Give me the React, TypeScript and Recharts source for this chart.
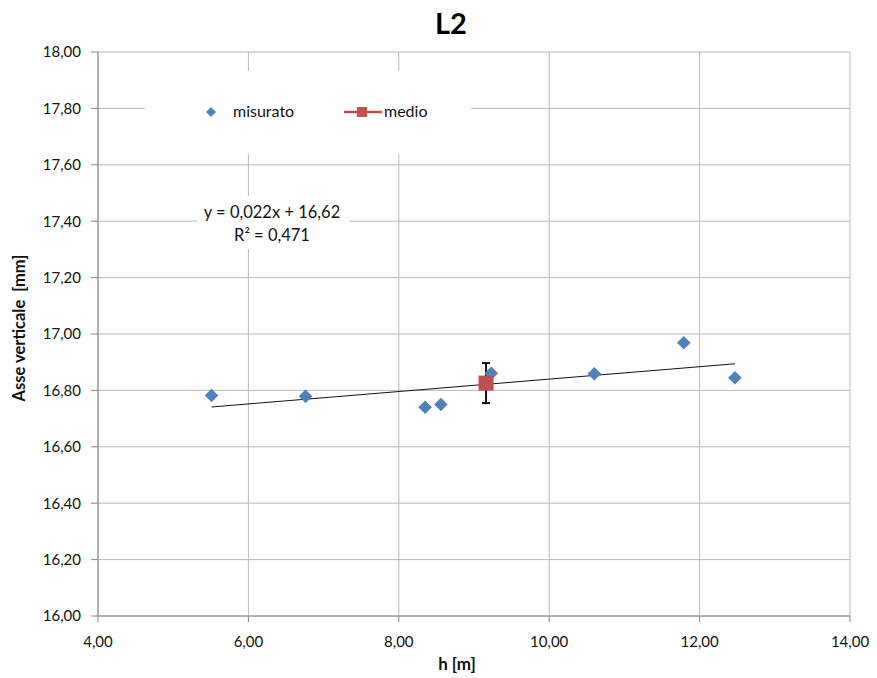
import {
  ScatterChart,
  Scatter,
  XAxis,
  YAxis,
  CartesianGrid,
  ErrorBar,
  ReferenceLine,
} from "recharts";

const xTicks = [4, 6, 8, 10, 12, 14];
const yTicks = [16, 16.2, 16.4, 16.6, 16.8, 17, 17.2, 17.4, 17.6, 17.8, 18];

// misurato
const hValues = [5.51, 6.76, 8.35, 8.56, 9.23, 10.6, 11.79, 12.47];
const measured = [16.782, 16.779, 16.74, 16.75, 16.861, 16.859, 16.969, 16.845];

// medio
const meanH = [9.16];
const meanValues = [16.826];
const meanErr = [0.071];

// trendline as printed on the chart
const trendSlope = 0.022;
const trendIntercept = 16.62;

const FONT = "Lato, 'Liberation Sans', sans-serif";
const BLUE = "#4F81BD";
const RED = "#C0504D";

const measuredData = hValues.map((h, i) => ({ h, v: measured[i] }));
const meanData = meanH.map((h, i) => ({ h, v: meanValues[i], err: meanErr[i] }));
const xMin = Math.min(...hValues);
const xMax = Math.max(...hValues);
const trendSegment = [
  { x: xMin, y: trendSlope * xMin + trendIntercept },
  { x: xMax, y: trendSlope * xMax + trendIntercept },
];

const fmt = (v: number) => v.toFixed(2).replace(".", ",");

const Diamond = (props: any) => {
  const { cx, cy } = props;
  const r = 6.8;
  return (
    <polygon
      points={`${cx},${cy - r} ${cx + r},${cy} ${cx},${cy + r} ${cx - r},${cy}`}
      fill={BLUE}
    />
  );
};

const Square = (props: any) => {
  const { cx, cy } = props;
  const s = 15;
  return <rect x={cx - s / 2} y={cy - s / 2} width={s} height={s} fill={RED} />;
};

export default function App() {
  return (
    <div
      style={{
        position: "absolute",
        left: 0,
        top: 0,
        width: 877,
        height: 678,
        background: "#fff",
        fontFamily: FONT,
      }}
    >
      <ScatterChart
        width={877}
        height={678}
        margin={{ top: 52, right: 27, left: 38, bottom: 32 }}
      >
        <CartesianGrid stroke="#b9b9b9" strokeWidth={1} />
        <XAxis
          type="number"
          dataKey="h"
          domain={[4, 14]}
          ticks={xTicks}
          tickFormatter={fmt}
          height={30}
          stroke="#868686"
          tickSize={6}
          tickMargin={14}
          tick={{ fill: "#111", fontSize: 15, fontFamily: FONT }}
          label={{
            content: () => (
              <text
                x={457}
                y={670}
                textAnchor="middle"
                fontFamily={FONT}
                fontWeight="bold"
                fontSize={17}
                fill="#111"
              >
                h [m]
              </text>
            ),
          }}
        />
        <YAxis
          type="number"
          dataKey="v"
          domain={[16, 18]}
          ticks={yTicks}
          tickFormatter={fmt}
          width={60}
          stroke="#868686"
          tickSize={7}
          tickMargin={10}
          tick={{ fill: "#111", fontSize: 15, fontFamily: FONT }}
          label={{
            content: () => (
              <text
                transform="translate(25,328) rotate(-90)"
                textAnchor="middle"
                fontFamily={FONT}
                fontWeight="bold"
                fontSize={16.5}
                fill="#111"
              >
                {"Asse verticale\u00a0\u00a0[mm]"}
              </text>
            ),
          }}
        />
        <ReferenceLine
          segment={trendSegment}
          stroke="#111"
          strokeWidth={1}
          ifOverflow="visible"
        />
        <Scatter
          name="misurato"
          data={measuredData}
          shape={<Diamond />}
          isAnimationActive={false}
        />
        <Scatter
          name="medio"
          data={meanData}
          shape={<Square />}
          isAnimationActive={false}
        >
          <ErrorBar
            dataKey="err"
            direction="y"
            width={4}
            stroke="#111"
            strokeWidth={2}
          />
        </Scatter>
      </ScatterChart>

      {/* title */}
      <div
        style={{
          position: "absolute",
          left: 351,
          top: 8,
          width: 200,
          textAlign: "center",
          fontSize: 29,
          fontWeight: "bold",
          lineHeight: 1,
          color: "#000",
        }}
      >
        L2
      </div>

      {/* legend */}
      <svg
        style={{ position: "absolute", left: 145, top: 71 }}
        width={326}
        height={83}
      >
        <rect x={0} y={0} width={326} height={83} fill="#fff" />
        <polygon points="66,36 71,41 66,46 61,41" fill={BLUE} />
        <text x={88} y={46} fontFamily={FONT} fontSize={16} fill="#111">
          misurato
        </text>
        <line x1={199} y1={41} x2={237} y2={41} stroke={RED} strokeWidth={2.5} />
        <rect x={212} y={36} width={10} height={10} fill={RED} />
        <text x={239} y={46} fontFamily={FONT} fontSize={16} fill="#111">
          medio
        </text>
      </svg>

      {/* trendline equation */}
      <svg
        style={{ position: "absolute", left: 197, top: 196 }}
        width={152}
        height={53}
      >
        <rect x={0} y={0} width={152} height={53} fill="#fff" />
        <text x={75} y={22} textAnchor="middle" fontFamily={FONT} fontSize={16.5} fill="#111">
          y = 0,022x + 16,62
        </text>
        <text x={75} y={45} textAnchor="middle" fontFamily={FONT} fontSize={16.5} fill="#111">
          R² = 0,471
        </text>
      </svg>
    </div>
  );
}
